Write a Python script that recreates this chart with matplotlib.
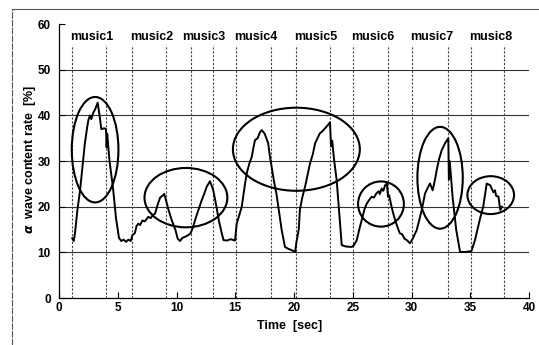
import matplotlib.pyplot as plt
from matplotlib.patches import Ellipse
from matplotlib.lines import Line2D

# alpha wave trace (time in sec, rate in %)
time_sec = [1.13, 1.25, 1.35, 1.55, 1.79, 2.0, 2.2, 2.4, 2.5, 2.63, 2.75, 2.9, 3.1, 3.29, 3.45,
            3.6, 3.85, 4.0, 4.05, 4.1, 4.3, 4.6, 4.85, 5.1, 5.3, 5.5, 5.7, 5.9, 6.1, 6.25,
            6.45, 6.6, 6.75, 6.9, 7.1, 7.3, 7.6, 7.8, 8.0, 8.17, 8.4, 8.6, 8.8, 8.96, 9.1,
            9.3, 9.6, 9.9, 10.1, 10.3, 10.5, 10.8, 11.0, 11.2, 11.4, 11.57, 11.85, 12.14, 12.35,
            12.57, 12.85, 13.0, 13.13, 13.4, 13.6, 13.85, 14.0, 14.3, 14.6, 14.98, 15.12, 15.3,
            15.55, 15.8, 15.97, 16.2, 16.4, 16.55, 16.68, 16.9, 17.1, 17.25, 17.5, 17.65, 17.8,
            17.95, 18.1, 18.3, 18.5, 18.75, 18.95, 19.23, 19.5, 19.8, 20.1, 20.2, 20.4, 20.5,
            20.7, 20.94, 21.2, 21.36, 21.6, 21.79, 22.0, 22.2, 22.4, 22.64, 22.85, 23.06, 23.15,
            23.25, 23.4, 23.63, 23.85, 24.06, 24.4, 24.9, 25.1, 25.34, 25.55, 25.76, 26.0, 26.19,
            26.4, 26.6, 26.8, 27.0, 27.2, 27.3, 27.46, 27.6, 27.75, 27.9, 28.0, 28.1, 28.3, 28.5,
            28.7, 29.0, 29.2, 29.4, 29.6, 29.87, 30.1, 30.44, 30.65, 30.87, 31.15, 31.35, 31.57,
            31.8, 32.0, 32.14, 32.35, 32.57, 32.85, 33.13, 33.18, 33.25, 33.5, 33.8, 34.13, 34.6,
            35.1, 35.4, 35.8, 36.1, 36.25, 36.4, 36.7, 36.85, 36.96, 37.1, 37.2, 37.4, 37.55,
            37.7]
alpha_rate = [13.1, 12.5, 14.0, 19.0, 23.6, 29.0, 33.9, 37.5, 39.0, 40.0, 39.2, 40.5, 41.5, 42.8, 40.0,
              37.0, 37.2, 37.0, 33.0, 36.0, 30.0, 24.0, 17.5, 13.2, 12.5, 12.8, 12.3, 12.8, 12.5, 13.8,
              14.2, 15.8, 16.3, 16.0, 17.0, 16.8, 17.8, 17.5, 18.2, 18.5, 20.5, 22.0, 22.4, 22.8, 21.5,
              19.5, 17.0, 15.0, 13.0, 12.5, 13.2, 13.5, 13.8, 14.2, 15.5, 17.0, 19.2, 21.4, 22.8,
              24.4, 25.6, 24.5, 23.6, 20.0, 17.0, 14.2, 12.7, 12.6, 12.9, 12.6, 16.3, 17.8,
              20.0, 24.5, 27.3, 29.5, 30.9, 33.0, 34.6, 35.0, 36.3, 36.8, 36.0, 35.0, 33.9,
              31.0, 28.7, 25.5, 22.9, 18.5, 14.9, 11.2, 10.8, 10.5, 10.1, 12.2, 15.0, 19.3,
              22.0, 24.4, 27.5, 29.5, 31.5, 33.9, 35.0, 36.1, 36.5, 37.2, 37.8, 38.5, 33.2,
              34.5, 30.5, 25.8, 18.5, 11.6, 11.3, 11.2, 11.6, 12.7, 15.0, 17.1, 19.5, 20.7,
              21.5, 22.2, 22.0, 22.9, 23.4, 22.8, 24.0, 23.5, 24.7, 25.1, 22.2, 22.5, 20.0, 18.0,
              16.3, 14.2, 14.0, 13.0, 12.7, 12.0, 13.0, 14.9, 17.0, 19.3, 22.9, 24.0, 25.1,
              23.6, 26.0, 28.0, 30.5, 32.4, 33.9, 35.0, 26.0, 30.0, 22.0, 15.0, 10.1, 10.1,
              10.3, 12.7, 17.1, 20.0, 22.5, 25.1, 24.7, 23.8, 23.2, 23.6, 22.4, 22.2, 19.3,
              20.0]

# boundaries of each music segment
boundaries = [1.1, 4.0, 6.2, 9.1, 11.2, 13.1, 15.1, 18.0, 20.2, 23.1, 25.0, 28.0, 30.0, 33.1, 35.1, 37.9]
music_labels = ['music1', 'music2', 'music3', 'music4', 'music5', 'music6', 'music7', 'music8']

# hand-drawn circles: (center x, center y, width, height)
circles = [(3.07, 32.5, 3.97, 23.1), (10.8, 22.0, 7.05, 13.0), (20.2, 32.6, 10.8, 18.2),
           (27.4, 20.6, 3.9, 9.9), (32.43, 26.35, 3.86, 22.3), (36.74, 22.55, 3.97, 8.3)]

plt.rcParams['font.family'] = ['Liberation Sans', 'DejaVu Sans']
plt.rcParams['font.weight'] = 'bold'

fig = plt.figure(figsize=(5.39, 3.45), dpi=100)
ax = fig.add_axes([0.1095, 0.136, 0.872, 0.794])

for yv in [10, 20, 30, 40, 50]:
    ax.axhline(yv, color='#333333', lw=0.8, zorder=1)
for xv in boundaries:
    ax.plot([xv, xv], [0, 55.5], color='#444444', lw=0.8, ls=(0, (2, 1.5)), zorder=1)

for i, lab in enumerate(music_labels):
    xc = (boundaries[2 * i] + boundaries[2 * i + 1]) / 2
    ax.text(xc + 0.2, 57.2, lab, ha='center', va='center', fontsize=9, fontweight='bold')

ax.plot(time_sec, alpha_rate, color='black', lw=1.4, zorder=3)

for cx, cy, w, h in circles:
    ax.add_patch(Ellipse((cx, cy), w, h, fill=False, edgecolor='black', lw=1.5, zorder=4))

ax.set_xlim(0, 40)
ax.set_ylim(0, 60)
ax.set_xticks(range(0, 41, 5))
ax.set_yticks(range(0, 61, 10))
ax.tick_params(direction='in', length=4, width=0.8, labelsize=8.5)
ax.tick_params(axis='x', pad=3)
ax.tick_params(axis='y', pad=6)
for lbl in ax.get_xticklabels() + ax.get_yticklabels():
    lbl.set_fontweight('bold')
ax.spines['top'].set_visible(False)
ax.spines['right'].set_visible(False)
ax.spines['left'].set_linewidth(0.9)
ax.spines['bottom'].set_linewidth(0.9)

fig.text(290 / 539, 1 - 326 / 345, 'Time  [sec]', ha='center', va='center', fontsize=9, fontweight='bold')
fig.text(30 / 539, 1 - 160 / 345, '$\\alpha$  wave content rate  [%]', ha='center', va='center',
         rotation=90, fontsize=9, fontweight='bold')

# outer frame of the scanned figure
fig.add_artist(Line2D([12 / 539, 1], [1 - 9 / 345, 1 - 9 / 345], transform=fig.transFigure,
                      color='#555555', lw=0.8))
fig.add_artist(Line2D([12 / 539, 12 / 539], [0, 1 - 9 / 345], transform=fig.transFigure,
                      color='#555555', lw=0.8, ls=(0, (6, 1))))

fig.savefig('out.png', dpi=100)
